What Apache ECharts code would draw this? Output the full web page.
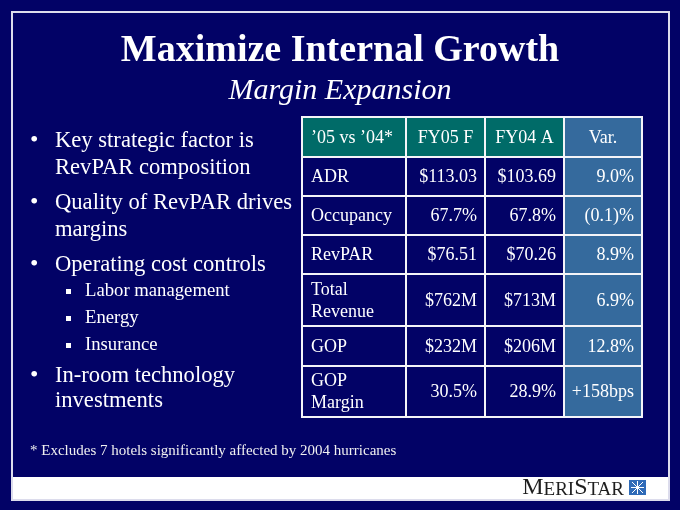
<!DOCTYPE html>
<html>
<head>
<meta charset="utf-8">
<script src="https://cdn.jsdelivr.net/npm/echarts@6/dist/echarts.min.js"></script>
<style>
  html, body { margin: 0; padding: 0; background: #020266; }
  #main { width: 680px; height: 510px; }
</style>
</head>
<body>
<div id="main"></div>
<script>
// table data
const columns = ['’05 vs ’04*', 'FY05 F', 'FY04 A', 'Var.'];
const metrics = ['ADR', 'Occupancy', 'RevPAR', 'Total\nRevenue', 'GOP', 'GOP\nMargin'];
const fy05 = ['$113.03', '67.7%', '$76.51', '$762M', '$232M', '30.5%'];
const fy04 = ['$103.69', '67.8%', '$70.26', '$713M', '$206M', '28.9%'];
const variance = ['9.0%', '(0.1)%', '8.9%', '6.9%', '12.8%', '+158bps'];

// slide text
const titleText = 'Maximize Internal Growth';
const subtitleText = 'Margin Expansion';
const bullets = [
  ['Key strategic factor is', 'RevPAR composition'],
  ['Quality of RevPAR drives', 'margins'],
  ['Operating cost controls']
];
const subBullets = ['Labor management', 'Energy', 'Insurance'];
const lastBullet = ['In-room technology', 'investments'];
const footnote = '* Excludes 7 hotels significantly affected by 2004 hurricanes';

// layout of the table (grid units = px inside the grid)
const colEdges = [0, 104, 183, 262, 340];
const rowEdges = [0, 40, 79, 118, 157, 209, 249, 300];

const NAVY = '#020266';
const TEAL = '#006b68';
const STEEL = '#356a9d';
const SERIF = '"Liberation Serif", "Times New Roman", serif';

// build cells: [col, row, text]
const cells = [];
columns.forEach((c, i) => cells.push([i, 0, c]));
metrics.forEach((m, r) => {
  cells.push([0, r + 1, m]);
  cells.push([1, r + 1, fy05[r]]);
  cells.push([2, r + 1, fy04[r]]);
  cells.push([3, r + 1, variance[r]]);
});

function renderCell(params, api) {
  const c = api.value(0), r = api.value(1);
  const p0 = api.coord([colEdges[c], rowEdges[r]]);
  const p1 = api.coord([colEdges[c + 1], rowEdges[r + 1]]);
  const x = p0[0], y = p0[1], w = p1[0] - p0[0], h = p1[1] - p0[1];
  let fill = NAVY;
  if (c === 3) fill = STEEL;
  else if (r === 0) fill = TEAL;
  let align = 'right', tx = x + w - 8;
  if (c === 0) { align = 'left'; tx = x + 9; }
  else if (r === 0) { align = 'center'; tx = x + w / 2; }
  return {
    type: 'group',
    children: [
      { type: 'rect', shape: { x: x, y: y, width: w, height: h },
        style: { fill: fill, stroke: '#f4f4f8', lineWidth: 2 } },
      { type: 'text', x: tx, y: y + h / 2 + 1,
        style: { text: cells[params.dataIndex][2], fill: '#ffffff',
          font: '18px ' + SERIF, align: align, verticalAlign: 'middle', lineHeight: 22 } }
    ]
  };
}

const graphics = [
  { type: 'rect', shape: { x: 12, y: 12, width: 657, height: 488 },
    style: { fill: NAVY, stroke: '#dcdcec', lineWidth: 2 }, z: -10 },
  { type: 'rect', shape: { x: 13, y: 477, width: 655, height: 22 },
    style: { fill: '#ffffff' }, z: -5 },
  { type: 'text', x: 340, y: 51,
    style: { text: titleText, fill: '#ffffff', font: 'bold 38px ' + SERIF, align: 'center', verticalAlign: 'middle' } },
  { type: 'text', x: 340, y: 91,
    style: { text: subtitleText, fill: '#ffffff', font: 'italic 30px ' + SERIF, align: 'center', verticalAlign: 'middle' } },
  { type: 'text', x: 30, y: 451,
    style: { text: footnote, fill: '#f0f0f0', font: '15px ' + SERIF, align: 'left', verticalAlign: 'middle' } },
  { type: 'text', x: 624, y: 488,
    style: { text: '{b|M}{s|ERI}{b|S}{s|TAR}', align: 'right', verticalAlign: 'middle',
      rich: { b: { font: '24px ' + SERIF, fill: '#1e1e1e', verticalAlign: 'bottom' },
              s: { font: '19px ' + SERIF, fill: '#1e1e1e', verticalAlign: 'bottom' } } } },
  { type: 'rect', shape: { x: 629, y: 480, width: 17, height: 15 }, style: { fill: '#2f6bb8' } },
  { type: 'line', shape: { x1: 631, y1: 487.5, x2: 644, y2: 487.5 }, style: { stroke: '#ffffff', lineWidth: 1 } },
  { type: 'line', shape: { x1: 637.5, y1: 481, x2: 637.5, y2: 494 }, style: { stroke: '#ffffff', lineWidth: 1 } },
  { type: 'line', shape: { x1: 632, y1: 482, x2: 643, y2: 493 }, style: { stroke: '#ffffff', lineWidth: 1 } },
  { type: 'line', shape: { x1: 643, y1: 482, x2: 632, y2: 493 }, style: { stroke: '#ffffff', lineWidth: 1 } }
];

// bullet lines
let y = 141;
bullets.forEach(lines => {
  graphics.push({ type: 'text', x: 30, y: y,
    style: { text: '•', fill: '#ffffff', font: '24px ' + SERIF, verticalAlign: 'middle' } });
  lines.forEach(line => {
    graphics.push({ type: 'text', x: 55, y: y,
      style: { text: line, fill: '#ffffff', font: '22.6px ' + SERIF, verticalAlign: 'middle' } });
    y += 27;
  });
  y += 8;
});
y = 291;
subBullets.forEach(line => {
  graphics.push({ type: 'rect', shape: { x: 66, y: y - 2, width: 5, height: 5 }, style: { fill: '#ffffff' } });
  graphics.push({ type: 'text', x: 85, y: y,
    style: { text: line, fill: '#ffffff', font: '18.7px ' + SERIF, verticalAlign: 'middle' } });
  y += 27;
});
y = 376;
graphics.push({ type: 'text', x: 30, y: y,
  style: { text: '•', fill: '#ffffff', font: '24px ' + SERIF, verticalAlign: 'middle' } });
lastBullet.forEach(line => {
  graphics.push({ type: 'text', x: 55, y: y,
    style: { text: line, fill: '#ffffff', font: '22.6px ' + SERIF, verticalAlign: 'middle' } });
  y += 25;
});

const chart = echarts.init(document.getElementById('main'));
chart.setOption({
  backgroundColor: NAVY,
  animation: false,
  graphic: graphics,
  grid: { left: 302, top: 117, width: 340, height: 300 },
  xAxis: { type: 'value', min: 0, max: 340, show: false },
  yAxis: { type: 'value', min: 0, max: 300, inverse: true, show: false },
  series: [{
    type: 'custom',
    renderItem: renderCell,
    data: cells.map(d => [d[0], d[1]]),
    silent: true
  }]
});
</script>
</body>
</html>
